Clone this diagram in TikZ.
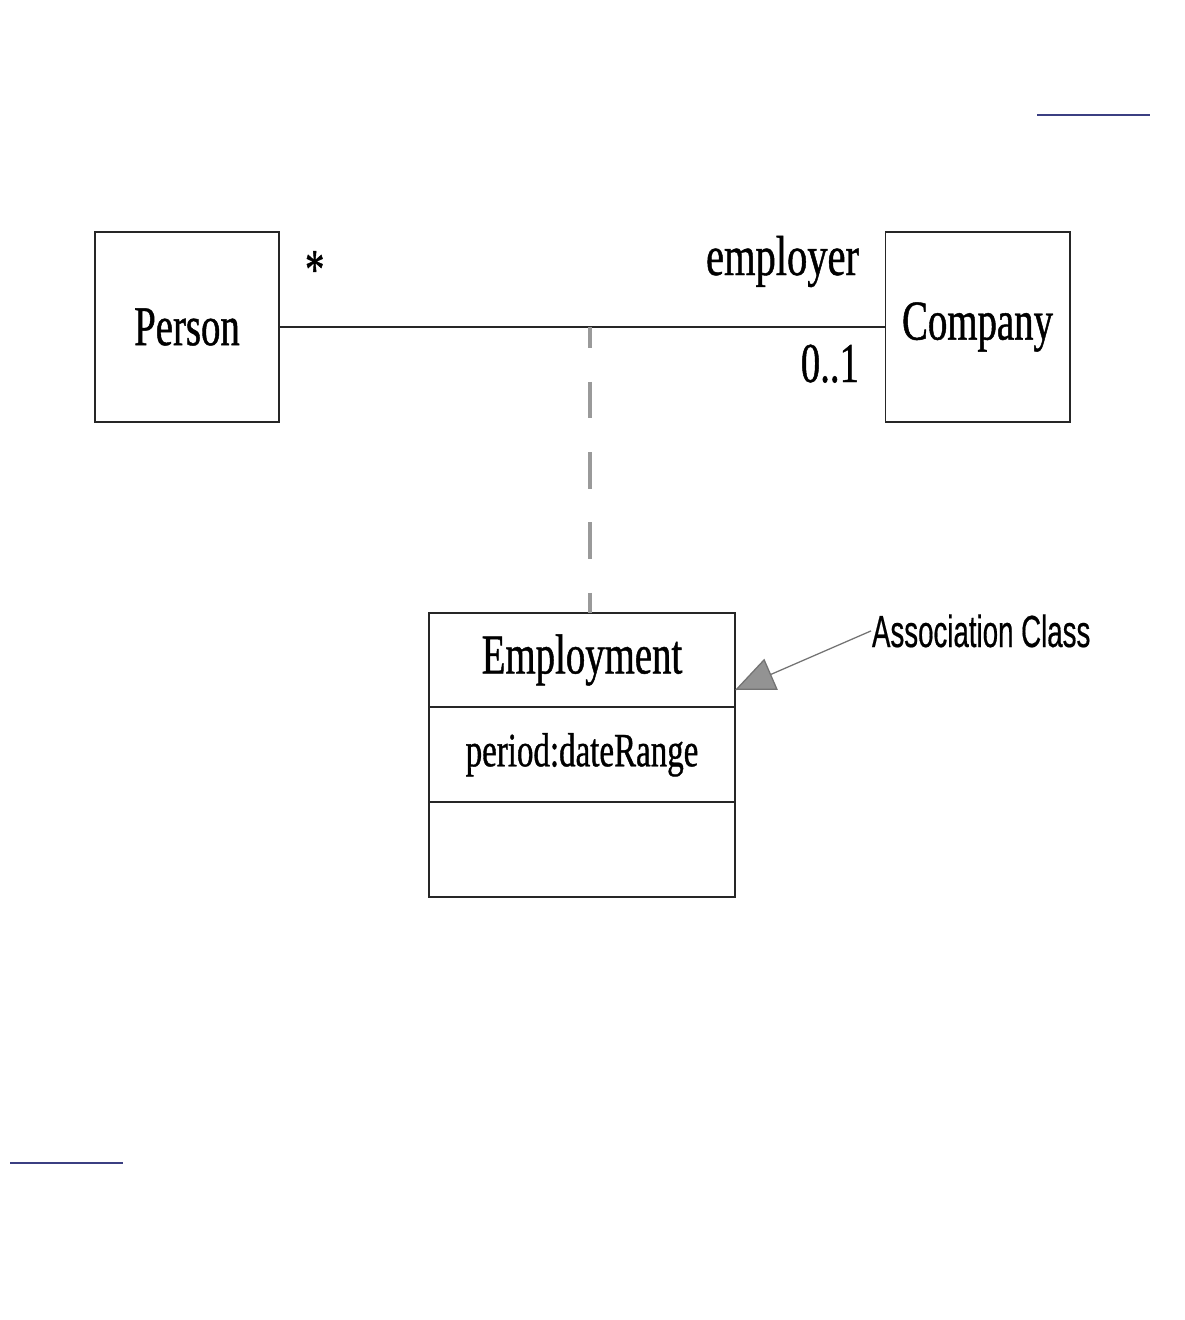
\documentclass[tikz,border=0pt]{standalone}
\usepackage{fontspec}
\setmainfont{Liberation Serif}[FakeStretch=0.69, FakeBold=0.8]
\newfontfamily\notefont{Liberation Sans}[FakeStretch=0.615, FakeBold=0.4]
\usetikzlibrary{positioning,arrows.meta}
\definecolor{linkblue}{HTML}{3B3F82}
\definecolor{dashgray}{HTML}{9A9A9A}
\begin{document}
\begin{tikzpicture}[x=0.025cm, y=-0.025cm, line width=1.4pt,
  classbox/.style={draw=black!85, minimum width=4.6cm, minimum height=4.75cm, inner sep=0pt, font=\fontsize{40}{48}\selectfont},
  part/.style={draw=black!85, minimum width=7.65cm, minimum height=2.37cm, inner sep=0pt, outer sep=0pt},
  role/.style={inner sep=0pt, font=\fontsize{40}{48}\selectfont},
  assocline/.style={dashgray, line width=2.2pt, dash pattern=on 26pt off 24pt, dash phase=11pt}]
\useasboundingbox (0,0) rectangle (1184,1320);

\node[classbox] (person) at (187,327) {Person};
\node[classbox] (company) at (977.5,327) {Company};

\node[part, font=\fontsize{40}{48}\selectfont] (emp) at (582,660) {Employment};
\node[part, font=\fontsize{34}{40}\selectfont, below=0pt of emp] (attr) {period:dateRange};
\node[part, below=0pt of attr] (ops) {};

\node[role, anchor=base west] (many) at (304,288) {*};
\node[role, anchor=base east, font=\fontsize{40}{48}\addfontfeature{FakeStretch=0.72}] (employer) at (860,275) {employer};
\node[role, anchor=base east] (mult) at (860,382) {0..1};

\node[inner sep=0pt, anchor=base west, font=\notefont\fontsize{32}{38}\selectfont] (note) at (871,647) {Association Class};

\coordinate (mid) at (590,327);
\coordinate (tip) at (735,690);

\draw[black!85] (person) -- (company);
\draw[assocline] (mid) -- (emp.north -| mid);
\draw[gray!90!black, line width=0.9pt, -{Triangle[length=28pt, width=24pt, fill=gray!85]}] (note.west) -- (tip);

% link underlines
\draw[linkblue, line width=1pt] (1037,115) -- (1150,115);
\draw[linkblue, line width=2pt] (10,1163) -- (123,1163);
\end{tikzpicture}
\end{document}
